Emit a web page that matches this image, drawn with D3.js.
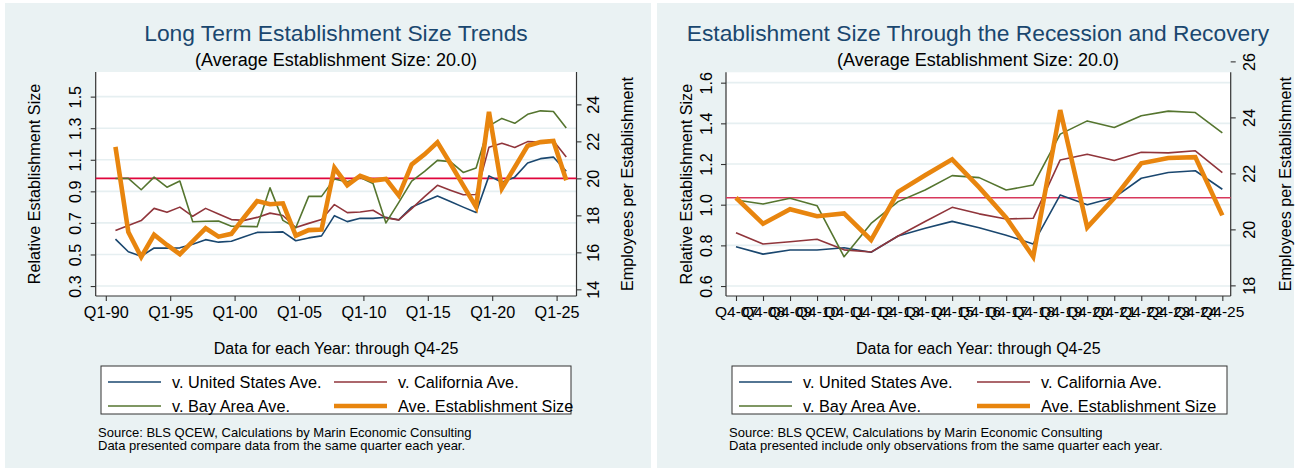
<!DOCTYPE html>
<html>
<head>
<meta charset="utf-8">
<script src="https://cdn.jsdelivr.net/npm/d3@7"></script>
<style>
  html, body { margin: 0; padding: 0; background: #fff; }
  svg { display: block; font-family: "Liberation Sans", Arial, Helvetica, sans-serif; }
</style>
</head>
<body>
<div id="chart"></div>
<script>
// ---- data: long term panel (Q4 of each year) ----
var longYears = [1990, 1991, 1992, 1993, 1994, 1995, 1996, 1997, 1998, 1999,
                 2000, 2001, 2002, 2003, 2004, 2005, 2006, 2007, 2008, 2009,
                 2010, 2011, 2012, 2013, 2014, 2015, 2016, 2017, 2018, 2019,
                 2020, 2021, 2022, 2023, 2024, 2025];
var longTickYears = [1990, 1995, 2000, 2005, 2010, 2015, 2020, 2025];
var longTickLabels = ["Q1-90", "Q1-95", "Q1-00", "Q1-05", "Q1-10", "Q1-15", "Q1-20", "Q1-25"];

var longUS = [.597, .517, .489, .541, .540, .542, .565, .594, .578, .584,
              .612, .640, .641, .643, .587, .605, .618, .746, .708, .729,
              .729, .736, .719, .800, .835, .870, .835, .800, .766, .998,
              .958, .990, 1.080, 1.107, 1.117, 1.027];
var longCA = [.652, .684, .715, .792, .767, .800, .742, .792, .757, .721,
              .716, .735, .762, .747, .671, .697, .722, .816, .765, .769,
              .780, .732, .719, .790, .866, .938, .907, .878, .880, 1.180,
              1.205, 1.178, 1.215, 1.212, 1.220, 1.117];
var longBay = [.981, .982, .910, .990, .926, .965, .707, .711, .712, .679,
               .678, .676, .922, .716, .669, .868, .868, .978, .960, .987,
               .950, .700, .830, .965, 1.027, 1.096, 1.088, 1.020, 1.048, 1.315,
               1.362, 1.331, 1.388, 1.410, 1.406, 1.301];
var longSize = [21.7, 17.1, 15.75, 16.95, 16.4, 15.9, 16.6, 17.3, 16.85, 17.0,
                17.9, 18.77, 18.6, 18.65, 16.9, 17.2, 17.23, 20.57, 19.63, 20.14,
                19.88, 19.97, 19.07, 20.75, 21.3, 21.95, 20.8, 19.62, 18.46, 23.6,
                19.45, 20.6, 21.76, 21.96, 22.02, 19.9];
var longLeftTicks = [0.3, 0.5, 0.7, 0.9, 1.1, 1.3, 1.5];
var longRightTicks = [14, 16, 18, 20, 22, 24];
var longRefLine = 20;

// ---- data: recession and recovery panel ----
var recQuarters = ["Q4-07", "Q4-08", "Q4-09", "Q4-10", "Q4-11", "Q4-12", "Q4-13",
                   "Q4-14", "Q4-15", "Q4-16", "Q4-17", "Q4-18", "Q4-19", "Q4-20",
                   "Q4-21", "Q4-22", "Q4-23", "Q4-24", "Q4-25"];
var recUS = [.793, .757, .777, .777, .788, .766, .846, .884, .918, .887,
             .850, .807, 1.048, 1.000, 1.035, 1.130, 1.158, 1.167, 1.076];
var recCA = [.862, .807, .818, .830, .778, .767, .846, .917, .987, .955,
             .930, .933, 1.220, 1.248, 1.217, 1.258, 1.255, 1.265, 1.158];
var recBay = [1.023, 1.003, 1.032, .995, .744, .908, 1.015, 1.072, 1.143, 1.133,
              1.072, 1.097, 1.347, 1.412, 1.380, 1.437, 1.460, 1.453, 1.353];
var recSize = [21.13, 20.2, 20.72, 20.47, 20.57, 19.62, 21.34, 21.93, 22.5, 21.5,
               20.42, 19.02, 24.26, 20.07, 21.12, 22.36, 22.55, 22.58, 20.5];
var recLeftTicks = [0.6, 0.8, 1.0, 1.2, 1.4, 1.6];
var recRightTicks = [18, 20, 22, 24, 26];
var recRefLine = 21.13;

var legendNames = ["v. United States Ave.", "v. California Ave.", "v. Bay Area Ave.", "Ave. Establishment Size"];

var navy = "#1a476f", maroon = "#90353b", green = "#55752f", orange = "#e8850e",
    bg = "#eaf2f3", gridCol = "#e6eff1", axisCol = "#333";

var svg = d3.select("#chart").append("svg")
    .attr("width", 1299).attr("height", 470);

function drawPanel(p) {
  var g = svg.append("g");

  g.append("rect")
    .attr("x", p.panel[0]).attr("y", 3)
    .attr("width", p.panel[1] - p.panel[0]).attr("height", 465)
    .attr("fill", bg);

  var x = d3.scaleLinear().domain(p.xDomain).range([p.left, p.right]);
  var yL = d3.scaleLinear().domain(p.yLDomain).range([p.bottom, p.top]);
  var yR = d3.scaleLinear().domain(p.yRDomain).range([p.bottom, p.top]);

  // plot region
  g.append("rect")
    .attr("x", p.left).attr("y", p.top)
    .attr("width", p.right - p.left).attr("height", p.bottom - p.top)
    .attr("fill", "#fff");

  // grid
  g.selectAll(".grid").data(p.leftTicks).enter().append("line")
    .attr("x1", p.left).attr("x2", p.right)
    .attr("y1", function(d) { return yL(d); })
    .attr("y2", function(d) { return yL(d); })
    .attr("stroke", gridCol).attr("stroke-width", 1.6);

  // titles
  g.append("text").attr("x", p.titleX).attr("y", 41)
    .attr("text-anchor", "middle").attr("fill", navy)
    .style("font-size", "22.8px").text(p.title);
  g.append("text").attr("x", p.titleX).attr("y", 66)
    .attr("text-anchor", "middle").attr("fill", "#000")
    .style("font-size", "18px").text("(Average Establishment Size: 20.0)");

  // left axis
  var axL = g.append("g").attr("transform", "translate(" + p.left + ",0)")
    .call(d3.axisLeft(yL).tickValues(p.leftTicks).tickSize(5).tickPadding(4).tickFormat(d3.format(".1f")));
  // right axis
  var axR = g.append("g").attr("transform", "translate(" + p.right + ",0)")
    .call(d3.axisRight(yR).tickValues(p.rightTicks).tickSize(5).tickPadding(4).tickFormat(d3.format("d")));
  // bottom axis
  var axB = g.append("g").attr("transform", "translate(0," + p.bottom + ")")
    .call(d3.axisBottom(x).tickValues(p.xTicks).tickSize(5).tickPadding(5)
      .tickFormat(function(d, i) { return p.xLabels[i]; }));

  [axL, axR, axB].forEach(function(ax) {
    ax.select(".domain").attr("stroke", axisCol).attr("stroke-width", 1.2);
    ax.selectAll(".tick line").attr("stroke", axisCol).attr("stroke-width", 1.1);
    ax.selectAll("text").attr("fill", "#000")
      .style("font-family", "'Liberation Sans', Arial, sans-serif").style("font-size", "16.2px");
  });
  axB.selectAll("text").style("font-size", p.xFont);
  axL.select(".domain").attr("d", "M0," + p.top + "V" + p.bottom);
  axR.select(".domain").attr("d", "M0," + p.top + "V" + p.bottom);
  axB.select(".domain").attr("d", "M" + p.left + ",0H" + p.right);

  // rotated y tick labels
  axL.selectAll(".tick text")
    .attr("x", null).attr("dy", null).attr("text-anchor", "middle")
    .attr("transform", "translate(-" + p.lLabOff + ",0) rotate(-90)")
    .attr("y", 0).attr("dy", "0.35em");
  axR.selectAll(".tick text")
    .attr("x", null).attr("dy", null).attr("text-anchor", "middle")
    .attr("transform", "translate(" + p.rLabOff + ",0) rotate(-90)")
    .attr("y", 0).attr("dy", "0.35em");

  // axis titles
  g.append("text")
    .attr("transform", "translate(" + p.yTitleL + "," + ((p.top + p.bottom) / 2) + ") rotate(-90)")
    .attr("text-anchor", "middle").attr("dy", "0.35em")
    .style("font-size", "16.2px").text("Relative Establishment Size");
  g.append("text")
    .attr("transform", "translate(" + p.yTitleR + "," + ((p.top + p.bottom) / 2) + ") rotate(-90)")
    .attr("text-anchor", "middle").attr("dy", "0.35em")
    .style("font-size", "16.2px").text("Employees per Establishment");
  g.append("text")
    .attr("x", (p.left + p.right) / 2).attr("y", 354)
    .attr("text-anchor", "middle")
    .style("font-size", "16px").text("Data for each Year: through Q4-25");

  // series
  var lineL = d3.line().x(function(d) { return x(d[0]); }).y(function(d) { return yL(d[1]); });
  var lineR = d3.line().x(function(d) { return x(d[0]); }).y(function(d) { return yR(d[1]); });
  function pairs(vals) { return vals.map(function(v, i) { return [p.xs[i], v]; }); }

  g.append("line")
    .attr("x1", p.left).attr("x2", p.right)
    .attr("y1", yR(p.refLine)).attr("y2", yR(p.refLine))
    .attr("stroke", p.refColor).attr("stroke-width", 1.6);

  [[p.us, navy], [p.ca, maroon], [p.bay, green]].forEach(function(s) {
    g.append("path").datum(pairs(s[0])).attr("d", lineL)
      .attr("fill", "none").attr("stroke", s[1]).attr("stroke-width", 1.6)
      .attr("stroke-linejoin", "round");
  });
  g.append("path").datum(pairs(p.size)).attr("d", lineR)
    .attr("fill", "none").attr("stroke", orange).attr("stroke-width", 4.6)
    .attr("stroke-linejoin", "miter");

  // legend
  var lg = g.append("g");
  lg.append("rect")
    .attr("x", p.legend[0]).attr("y", 366)
    .attr("width", p.legend[1] - p.legend[0]).attr("height", 48)
    .attr("fill", "#fff").attr("stroke", axisCol).attr("stroke-width", 1);
  var cols = [navy, maroon, green, orange];
  legendNames.forEach(function(name, i) {
    var col = i % 2, row = Math.floor(i / 2);
    var lx = col === 0 ? p.legend[0] + 7 : p.legendCol2;
    var ly = 382 + row * 24;
    lg.append("line").attr("x1", lx).attr("x2", lx + 53).attr("y1", ly).attr("y2", ly)
      .attr("stroke", cols[i]).attr("stroke-width", i === 3 ? 4.6 : 1.6);
    lg.append("text").attr("x", lx + 64).attr("y", ly).attr("dy", "0.36em")
      .style("font-size", "16.3px").text(name);
  });

  // notes
  g.append("text").attr("x", p.legend[0] - 3).attr("y", 437)
    .style("font-size", "13px").text("Source: BLS QCEW, Calculations by Marin Economic Consulting");
  g.append("text").attr("x", p.legend[0] - 3).attr("y", 450)
    .style("font-size", "13px").text(p.note);
}

drawPanel({
  panel: [5, 651],
  left: 95.7, right: 576.5, top: 72, bottom: 296,
  xDomain: [1989.216, 2026.545],
  yLDomain: [0.237, 1.656],
  yRDomain: [13.64, 25.75],
  xs: longYears.map(function(y) { return y + 0.75; }),
  xTicks: longTickYears, xLabels: longTickLabels, xFont: "16.2px",
  leftTicks: longLeftTicks, rightTicks: longRightTicks,
  us: longUS, ca: longCA, bay: longBay, size: longSize,
  refLine: longRefLine, refColor: "#e0063c",
  title: "Long Term Establishment Size Trends", titleX: 336,
  lLabOff: 20, rLabOff: 17, yTitleL: 34, yTitleR: 627,
  legend: [101, 571], legendCol2: 334,
  note: "Data presented compare data from the same quarter each year."
});

drawPanel({
  panel: [657, 1294],
  left: 726, right: 1230.7, top: 72.3, bottom: 296,
  xDomain: [-0.37, 18.31],
  yLDomain: [0.551, 1.651],
  yRDomain: [17.62, 25.61],
  xs: recQuarters.map(function(q, i) { return i; }),
  xTicks: recQuarters.map(function(q, i) { return i; }), xLabels: recQuarters, xFont: "15.5px",
  leftTicks: recLeftTicks, rightTicks: recRightTicks,
  us: recUS, ca: recCA, bay: recBay, size: recSize,
  refLine: recRefLine, refColor: "#d8385c",
  title: "Establishment Size Through the Recession and Recovery", titleX: 978,
  lLabOff: 20, rLabOff: 19, yTitleL: 686, yTitleR: 1285,
  legend: [732, 1227], legendCol2: 977,
  note: "Data presented include only observations from the same quarter each year."
});
</script>
</body>
</html>
